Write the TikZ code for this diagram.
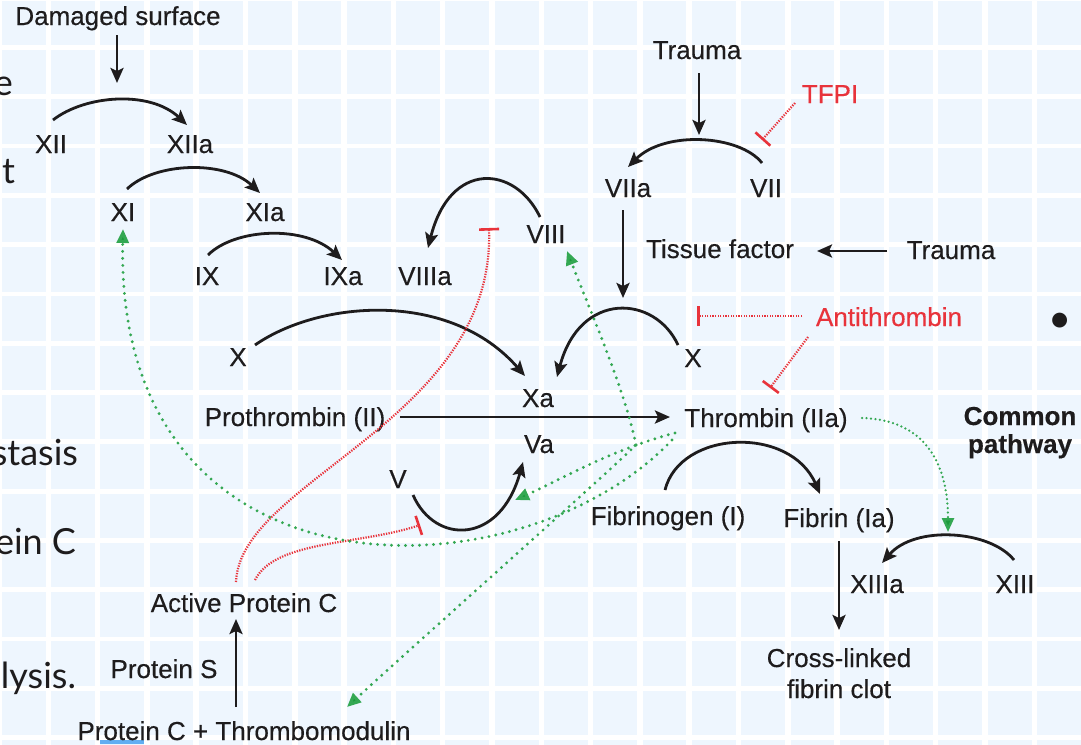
\documentclass[tikz,border=0pt]{standalone}
\usepackage{fontspec}
\setmainfont{Liberation Sans}[FakeBold=0.35]
\newfontfamily\pagefont{Lato}
\usetikzlibrary{arrows.meta}
\definecolor{cellblue}{HTML}{EEF6FE}
\definecolor{ink}{HTML}{1E1C1D}
\definecolor{gr}{HTML}{34A853}
\definecolor{grtip}{HTML}{1B9A3C}
\definecolor{rd}{HTML}{E8333B}
\definecolor{selblue}{HTML}{62AEF2}
\begin{document}
\begin{tikzpicture}[x=1pt,y=-1pt,
  lbl/.style={anchor=base,inner sep=0pt,outer sep=0pt,text=ink,font=\fontsize{26}{31}\selectfont},
  redlbl/.style={lbl,text=rd},
  boldlbl/.style={lbl,font=\bfseries\fontsize{26}{31}\selectfont},
  frag/.style={anchor=base east,inner sep=0pt,outer sep=0pt,text=ink,font=\pagefont\fontsize{36}{44}\selectfont},
  act/.style={draw=ink,line width=2.8pt,-{Stealth[length=15pt,width=13pt,inset=3pt]}},
  inh/.style={draw=rd,line width=2.2pt,dash pattern=on 1.3pt off 1.3pt,-{Bar[width=20pt,line width=2.6pt]}},
  fb/.style={draw=gr,line width=3.2pt,line cap=round,dash pattern=on 0pt off 7pt,-{Triangle[length=14pt,width=12pt,fill=grtip]}},
  fbfine/.style={fb,line width=2.5pt,dash pattern=on 0pt off 4.5pt},
]
\clip (0,0) rectangle (1081,744);
\fill[white] (0,0) rectangle (1081,744);
\foreach \i in {0,...,21}{
  \foreach \j in {0,...,15}{
    \fill[cellblue] ({1.7+49.3*\i},{0.5+49.3*\j}) rectangle +(43.8,44.5);
  }
}
\fill[selblue] (100,740) rectangle (144,744);

% fragments of the page behind
\node[frag] (f1) at (13,95) {e};
\node[frag] (f2) at (15,183) {t};
\node[frag] (f3) at (78,465) {stasis};
\node[frag] (f4) at (76,554) {ein C};
\node[frag] (f5) at (76,688) {lysis.};
\node[inner sep=0pt,text=ink,font=\pagefont\fontsize{40}{48}\selectfont] (bul) at (1060,323) {•};

% labels
\node[lbl] (ds) at (118,25) {Damaged surface};
\node[lbl] (xii) at (51,153) {XII};
\node[lbl] (xiia) at (190,153) {XIIa};
\node[lbl] (xi) at (123,221) {XI};
\node[lbl] (xia) at (265,221) {XIa};
\node[lbl] (ix) at (207,285) {IX};
\node[lbl] (ixa) at (343,285) {IXa};
\node[lbl] (viiia) at (425,285) {VIIIa};
\node[lbl] (viii) at (546,243) {VIII};
\node[lbl] (tr1) at (697,59) {Trauma};
\node[redlbl] (tfpi) at (830,103) {TFPI};
\node[lbl] (viia) at (628,197) {VIIa};
\node[lbl] (vii) at (766,197) {VII};
\node[lbl] (tf) at (720,258) {Tissue factor};
\node[lbl] (tr2) at (951,259) {Trauma};
\node[redlbl] (at) at (889,326) {Antithrombin};
\node[lbl] (xl) at (238,366) {X};
\node[lbl] (xr) at (693,367) {X};
\node[lbl] (xa) at (538,407) {Xa};
\node[lbl] (proth) at (295,426) {Prothrombin (II)};
\node[lbl] (thr) at (766,427) {Thrombin (IIa)};
\node[boldlbl] (cp1) at (1020,425) {Common};
\node[boldlbl] (cp2) at (1020,453) {pathway};
\node[lbl] (va) at (539,453) {Va};
\node[lbl] (v) at (398,488) {V};
\node[lbl] (fbg) at (668,525) {Fibrinogen (I)};
\node[lbl] (fbn) at (839,527) {Fibrin (Ia)};
\node[lbl] (xiiia) at (877,593) {XIIIa};
\node[lbl] (xiii) at (1015,593) {XIII};
\node[lbl] (apc) at (244,612) {Active Protein C};
\node[lbl] (ps) at (164,678) {Protein S};
\node[lbl] (clot1) at (839,667) {Cross-linked};
\node[lbl] (clot2) at (839,698) {fibrin clot};
\node[lbl] (pctm) at (244,740) {Protein C + Thrombomodulin};

% free ends
\coordinate (dsTip) at (117,83);
\coordinate (tr1Tip) at (699,135);
\coordinate (tfpiT) at (762,140);
\coordinate (viiaTip) at (623,298);
\coordinate (atT) at (697,316);
\coordinate (apcT1) at (489,228);
\coordinate (apcT2) at (420,525);
\coordinate (vFb) at (515,500);

% black activation arrows
\draw[act] ([shift={(-1,10)}]ds.base) -- (dsTip);
\draw[act] ([shift={(2,-33)}]xii.base) .. controls +(32,-25) and +(-37,-35) .. ([shift={(-3,-28)}]xiia.base);
\draw[act] ([shift={(4,-32)}]xi.base) .. controls +(28,-27) and +(-35,-33) .. ([shift={(-5,-28)}]xia.base);
\draw[act] ([shift={(1,-30)}]ix.base) .. controls +(27,-27) and +(-37,-35) .. ([shift={(-1,-25)}]ixa.base);
\draw[act] ([shift={(-6,-26)}]viii.base) .. controls +(-25,-52) and +(22,-88) .. ([shift={(3,-37)}]viiia.base);
\draw[act] ([shift={(2,14)}]tr1.base) -- (tr1Tip);
\draw[act] ([shift={(-4,-34)}]vii.base) .. controls +(-22,-28) and +(37,-37) .. ([shift={(0,-30)}]viia.base);
\draw[act] ([shift={(-5,13)}]viia.base) -- (viiaTip);
\draw[act] ([shift={(-64,-8)}]tr2.base) -- ([shift={(97,-7)}]tf.base);
\draw[act] ([shift={(17,-21)}]xl.base) .. controls +(65,-45) and +(-75,-86) .. ([shift={(-13,-31)}]xa.base);
\draw[act] ([shift={(-15,-22)}]xr.base) .. controls +(-23,-50) and +(23,-87) .. ([shift={(19,-30)}]xa.base);
\draw[act] ([shift={(105,-9)}]proth.base) -- ([shift={(-96,-10)}]thr.base);
\draw[act] ([shift={(15,7)}]v.base) .. controls +(22,50) and +(-23,83) .. ([shift={(-16,9)}]va.base);
\draw[act] ([shift={(-3,-35)}]fbg.base) .. controls +(15,-60) and +(-30,-69) .. ([shift={(-19,-33)}]fbn.base);
\draw[act] ([shift={(0,14)}]fbn.base) -- ([shift={(0,-37)}]clot1.base);
\draw[act] ([shift={(-1,-33)}]xiii.base) .. controls +(-24,-30) and +(33,-38) .. ([shift={(5,-30)}]xiiia.base);
\draw[act] ([shift={(-8,-33)}]pctm.base) -- ([shift={(-8,7)}]apc.base);

% red inhibitions
\draw[inh] ([shift={(-35,0)}]tfpi.base) -- (tfpiT);
\draw[inh] ([shift={(-87,-10)}]at.base) -- (atT);
\draw[inh] ([shift={(-81,11)}]at.base) -- ([shift={(4,-39)}]thr.base);
\draw[inh] ([shift={(-8,-30)}]apc.base) .. controls +(4,-102) and +(6,192) .. (apcT1);
\draw[inh] ([shift={(11,-32)}]apc.base) .. controls +(20,-40) and +(-60,20) .. (apcT2);

% green feedback
\draw[fb] ([shift={(-130,18)}]thr.base) .. controls +(-11,-55) and +(22,57) .. ([shift={(21,8)}]viii.base);
\draw[fb] ([shift={(-91,6)}]thr.base) .. controls +(-65,17) and +(45,-20) .. (vFb);
\draw[fb] ([shift={(-94,13)}]thr.base) .. controls +(-152,160) and +(-8,381) .. ([shift={(0,8)}]xi.base);
\draw[fb] ([shift={(-130,18)}]thr.base) .. controls +(-36,35) and +(73,-67) .. ([shift={(103,-33)}]pctm.base);
\draw[fbfine] ([shift={(96,-9)}]thr.base) .. controls +(68,2) and +(0,-62) .. ([shift={(71,-61)}]xiiia.base);
\end{tikzpicture}
\end{document}
